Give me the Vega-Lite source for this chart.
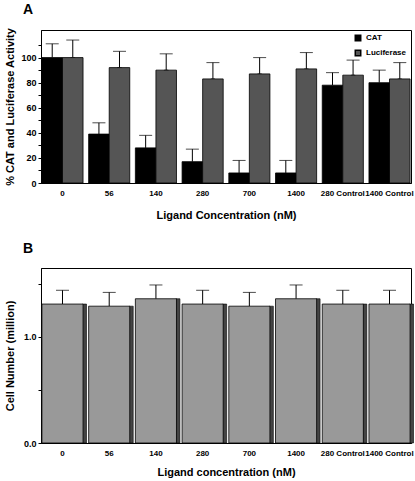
{
  "$schema": "https://vega.github.io/schema/vega-lite/v6.json",
  "padding": {"left": 3, "top": 2, "right": 3, "bottom": 2},
  "spacing": 20,
  "config": {
    "font": "Liberation Sans",
    "view": {"stroke": "#000", "strokeWidth": 1},
    "axis": {"labelFont": "Liberation Sans", "labelFontWeight": "bold", "labelFontSize": 9, "labelColor": "#000", "titleFont": "Liberation Sans", "titleFontWeight": "bold", "titleFontSize": 11, "titleColor": "#000", "domainColor": "#000", "tickColor": "#000", "grid": false, "labelOverlap": false},
    "axisY": {"labelOverlap": false, "labelSeparation": 0},
    "axisQuantitative": {"labelOverlap": false},
    "title": {"font": "Liberation Sans", "fontSize": 14, "fontWeight": "bold", "anchor": "start", "color": "#000", "frame": "group"}
  },
  "datasets": {
    "a": [
      {"conc": "0", "series": "CAT", "value": 100, "upper": 111},
      {"conc": "0", "series": "Luciferase", "value": 100, "upper": 114},
      {"conc": "56", "series": "CAT", "value": 39, "upper": 48},
      {"conc": "56", "series": "Luciferase", "value": 92, "upper": 105},
      {"conc": "140", "series": "CAT", "value": 28, "upper": 38},
      {"conc": "140", "series": "Luciferase", "value": 90, "upper": 103},
      {"conc": "280", "series": "CAT", "value": 17, "upper": 27},
      {"conc": "280", "series": "Luciferase", "value": 83, "upper": 96},
      {"conc": "700", "series": "CAT", "value": 8, "upper": 18},
      {"conc": "700", "series": "Luciferase", "value": 87, "upper": 100},
      {"conc": "1400", "series": "CAT", "value": 8, "upper": 18},
      {"conc": "1400", "series": "Luciferase", "value": 91, "upper": 104},
      {"conc": "280 Control", "series": "CAT", "value": 78, "upper": 88},
      {"conc": "280 Control", "series": "Luciferase", "value": 86, "upper": 98},
      {"conc": "1400 Control", "series": "CAT", "value": 80, "upper": 90},
      {"conc": "1400 Control", "series": "Luciferase", "value": 83, "upper": 96}
    ],
    "b": [
      {"conc": "0", "value": 1.31, "upper": 1.44},
      {"conc": "56", "value": 1.29, "upper": 1.42},
      {"conc": "140", "value": 1.36, "upper": 1.49},
      {"conc": "280", "value": 1.31, "upper": 1.44},
      {"conc": "700", "value": 1.29, "upper": 1.42},
      {"conc": "1400", "value": 1.36, "upper": 1.49},
      {"conc": "280 Control", "value": 1.31, "upper": 1.44},
      {"conc": "1400 Control", "value": 1.31, "upper": 1.44}
    ]
  },
  "vconcat": [
    {
      "title": {"text": "A", "dx": -18, "offset": 10},
      "width": 370,
      "height": 153,
      "data": {"name": "a"},
      "encoding": {
        "x": {"field": "conc", "type": "nominal", "sort": null,
              "scale": {"paddingInner": 0.12, "paddingOuter": 0.02},
              "axis": {"title": "Ligand Concentration (nM)", "labelAngle": 0, "ticks": false, "labelFontSize": 8, "labelPadding": 6, "titlePadding": 12}},
        "xOffset": {"field": "series", "type": "nominal", "scale": {"paddingInner": 0}},
        "y": {"field": "value", "type": "quantitative",
              "scale": {"domain": [0, 122], "nice": false},
              "axis": {"title": "% CAT and Luciferase Activity", "values": [0, 10, 20, 30, 40, 50, 60, 70, 80, 90, 100, 110], "labelExpr": "datum.value % 20 == 0 ? datum.label : ''", "labelOverlap": false, "labelSeparation": 0, "tickSize": 3, "titlePadding": 5}}
      },
      "layer": [
        {
          "mark": {"type": "rule", "color": "#000", "strokeWidth": 1},
          "encoding": {
            "y2": {"field": "upper"}
          }
        },
        {
          "mark": {"type": "tick", "color": "#000", "thickness": 1, "size": 13, "yOffset": 0},
          "encoding": {
            "y": {"field": "upper", "type": "quantitative", "axis": {"title": "% CAT and Luciferase Activity", "values": [0, 10, 20, 30, 40, 50, 60, 70, 80, 90, 100, 110], "labelExpr": "datum.value % 20 == 0 ? datum.label : ''", "labelOverlap": false, "labelSeparation": 0, "tickSize": 3, "titlePadding": 5}}
          }
        },
        {
          "transform": [{"filter": "datum.series == 'Luciferase'"}],
          "mark": {"type": "bar", "width": 4, "xOffset": 12, "fill": "#777777", "stroke": "#000", "strokeWidth": 0.6},
          "encoding": {}
        },
        {
          "mark": {"type": "bar", "stroke": "#000", "strokeWidth": 0.8},
          "encoding": {
            "fill": {"field": "series", "type": "nominal",
                     "scale": {"domain": ["CAT", "Luciferase"], "range": ["#000000", "#555555"]},
                     "legend": {"title": null, "orient": "top-right", "symbolType": "square", "symbolSize": 30, "labelFontWeight": "bold", "labelFontSize": 8, "labelColor": "#000", "symbolStrokeColor": "#000", "rowPadding": 3, "offset": 4}}
          }
        }
      ]
    },
    {
      "title": {"text": "B", "dx": -18, "offset": 12},
      "width": 370,
      "height": 175,
      "data": {"name": "b"},
      "encoding": {
        "x": {"field": "conc", "type": "nominal", "sort": null,
              "scale": {"paddingInner": 0.12, "paddingOuter": 0.02},
              "axis": {"title": "Ligand concentration (nM)", "labelAngle": 0, "ticks": false, "labelFontSize": 8, "labelPadding": 6, "titlePadding": 9}},
        "y": {"field": "value", "type": "quantitative",
              "scale": {"domain": [0, 1.65], "nice": false},
              "axis": {"title": "Cell Number (million)", "values": [0, 0.5, 1, 1.5], "format": ".1f", "labelExpr": "datum.value == 0 || datum.value == 1 ? datum.label : ''", "labelOverlap": false, "tickSize": 3, "titlePadding": 8}}
      },
      "layer": [
        {
          "mark": {"type": "rule", "color": "#000", "strokeWidth": 1},
          "encoding": {
            "y2": {"field": "upper"}
          }
        },
        {
          "mark": {"type": "tick", "color": "#000", "thickness": 1, "size": 13},
          "encoding": {
            "y": {"field": "upper", "type": "quantitative", "axis": {"title": "Cell Number (million)", "values": [0, 0.5, 1, 1.5], "format": ".1f", "labelExpr": "datum.value == 0 || datum.value == 1 ? datum.label : ''", "labelOverlap": false, "tickSize": 3, "titlePadding": 8}}
          }
        },
        {
          "mark": {"type": "bar", "width": 4, "xOffset": 22, "fill": "#444444", "stroke": "#000", "strokeWidth": 0.6},
          "encoding": {}
        },
        {
          "mark": {"type": "bar", "fill": "#999999", "stroke": "#000", "strokeWidth": 0.8},
          "encoding": {}
        }
      ]
    }
  ]
}
